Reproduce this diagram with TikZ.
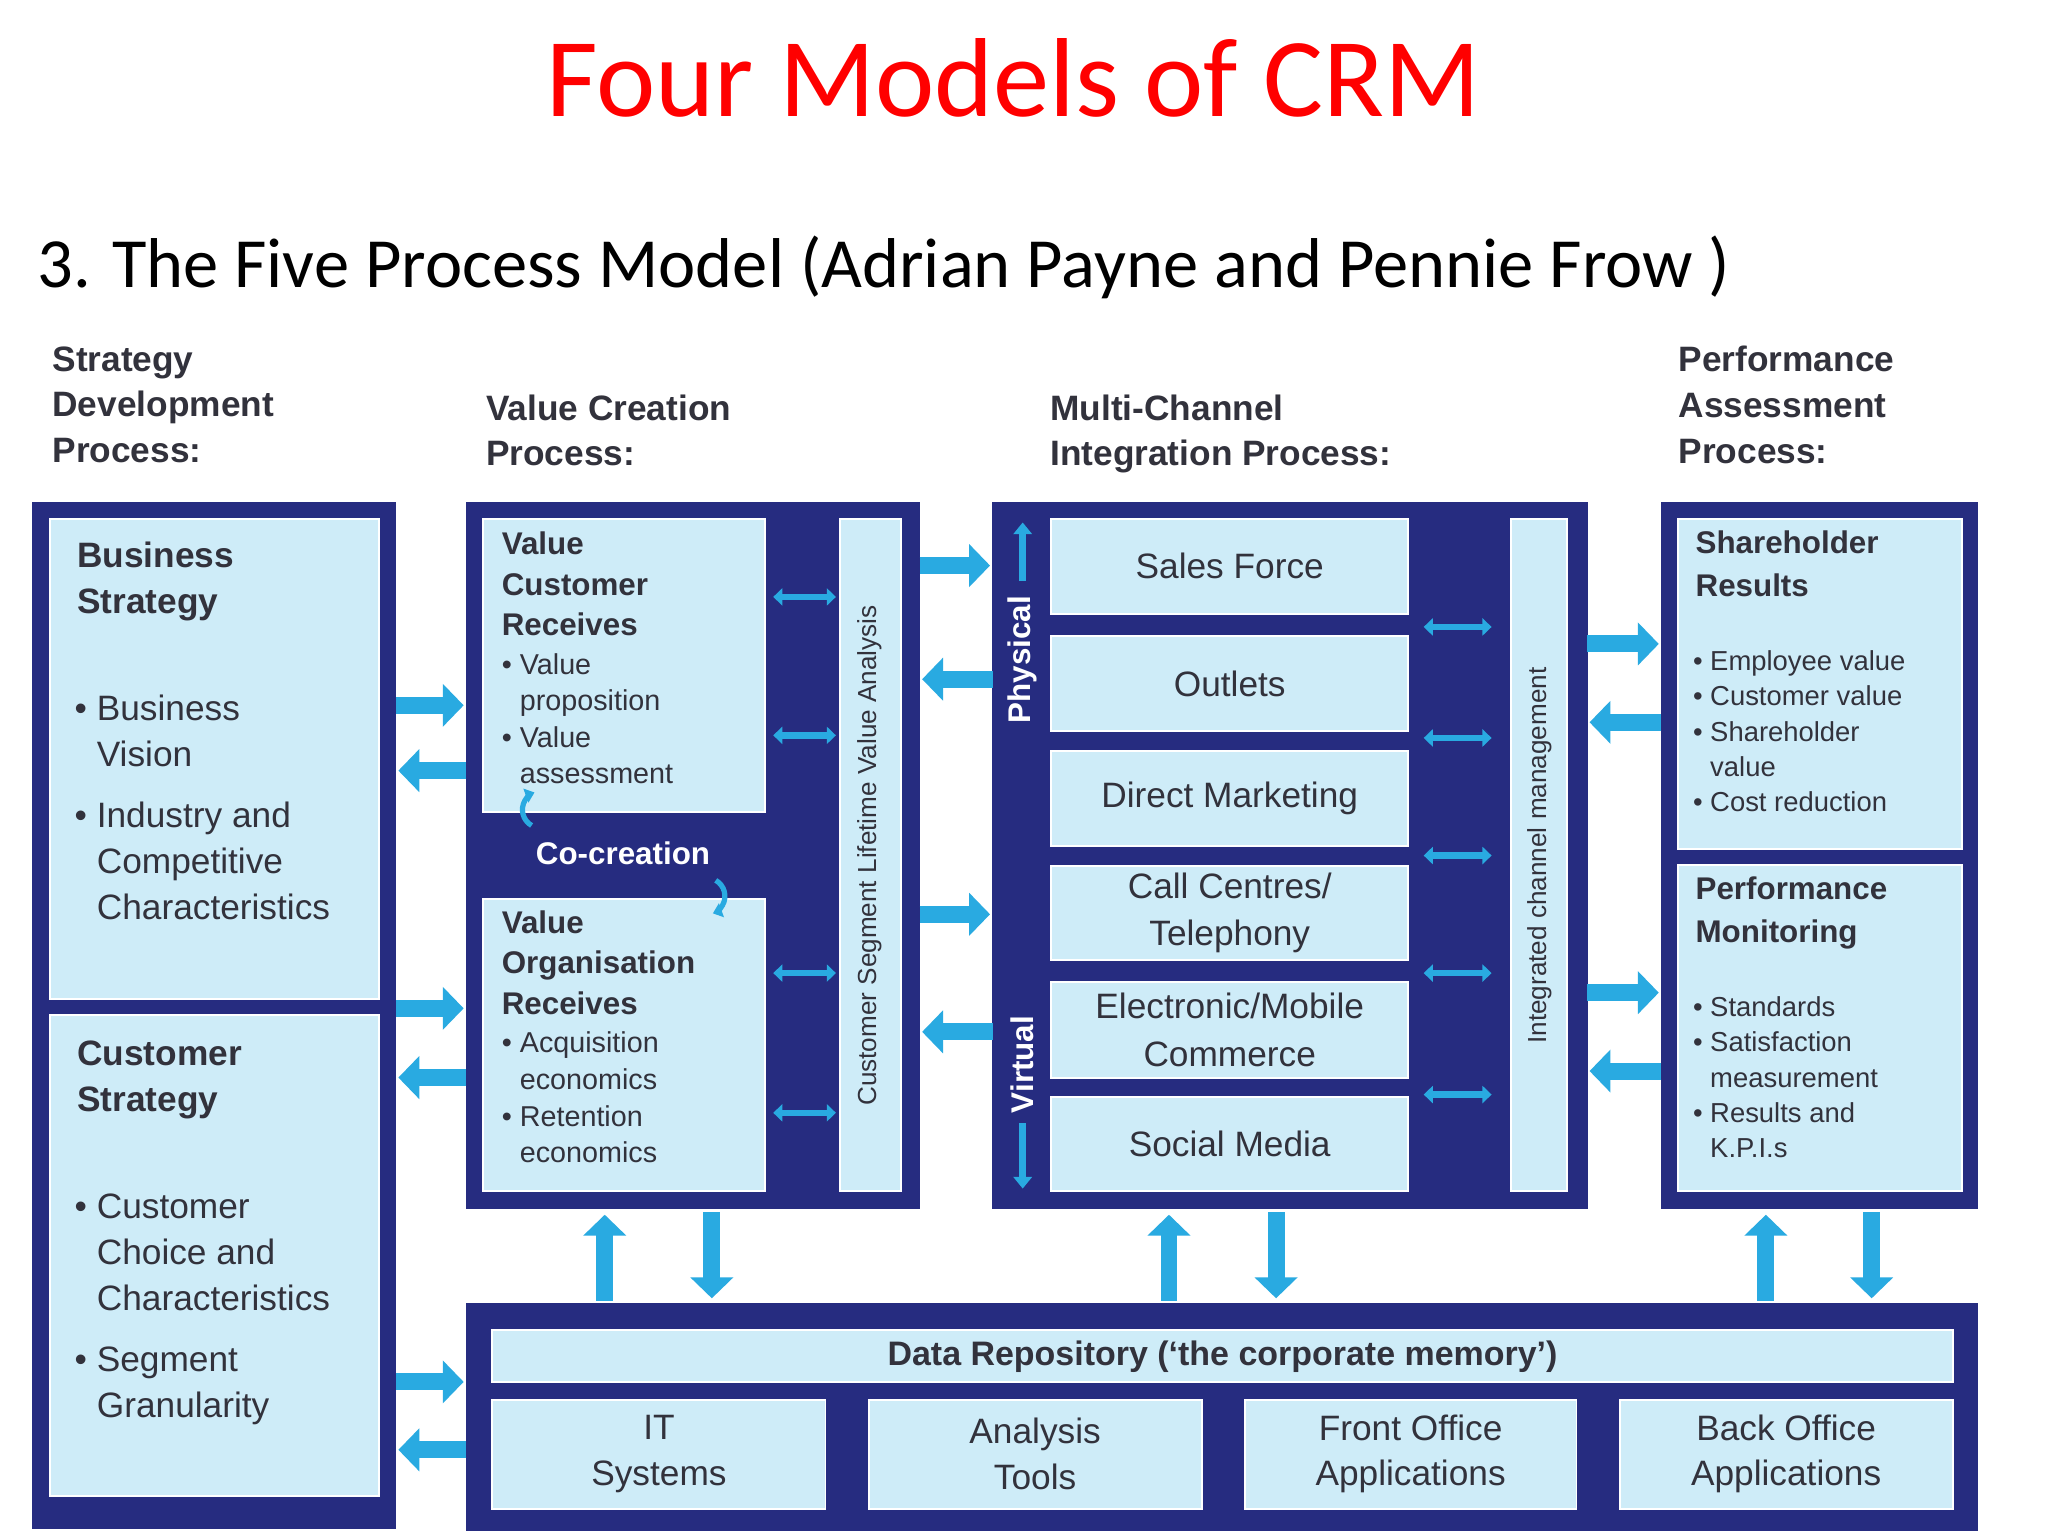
\documentclass[tikz,border=0pt]{standalone}
\usepackage{fontspec}
\setmainfont{Liberation Sans}
\newfontfamily\titlefont{Carlito}
\usetikzlibrary{arrows.meta,calc}
\definecolor{navy}{RGB}{38,44,128}
\definecolor{lblue}{RGB}{206,236,248}
\definecolor{cyanA}{RGB}{41,170,225}
\definecolor{txt}{RGB}{50,50,60}
\tikzset{
 x=1pt,y=-1pt,
 panel/.style={draw=navy,fill=navy,line width=1pt},
 box/.style={draw=white,line width=1.5pt,fill=lblue},
 fat/.style={draw=cyanA,line width=13pt,-{Triangle[length=16pt,width=32pt]},shorten >=0pt},
 dbl/.style={draw=cyanA,line width=5pt,{Triangle[length=7pt,width=13pt]}-{Triangle[length=7pt,width=13pt]}},
 hd/.style={font=\bfseries\fontsize{27}{35}\selectfont,text=txt,align=left,anchor=north west,inner sep=0},
 btxt/.style={text=txt,align=left,anchor=north west,inner sep=0},
 ctr/.style={text=txt,align=center,font=\fontsize{27}{36}\selectfont},
}
\begin{document}
\begin{tikzpicture}
\useasboundingbox (0,0) rectangle (1568,1176);
\fill[white] (0,0) rectangle (1568,1176);
\node[text=red,font=\titlefont\fontsize{86}{90}\selectfont] (title) at (776,60) {Four Models of CRM};
\node[anchor=west,font=\titlefont\fontsize{54}{60}\selectfont,text=black] (sub) at (25,205) {3. The Five Process Model (Adrian Payne and Pennie Frow )};
% headings
\node[hd] (h1) at (40,265) {Strategy\\Development\\Process:};
\node[hd] (h2) at (372,302) {Value Creation\\Process:};
\node[hd] (h3) at (804,302) {Multi-Channel\\Integration Process:};
\node[hd] (h4) at (1285,265) {Performance\\Assessment\\Process:};
% panels
\draw[panel] (25,385) rectangle (303,1170);
\draw[panel] (357,385) rectangle (704,925);
\draw[panel] (760,385) rectangle (1215,925);
\draw[panel] (1272,385) rectangle (1514,925);
\draw[panel] (357,998) rectangle (1514,1172);
\coordinate (p1) at (303,0); \coordinate (p2l) at (357,0); \coordinate (p2r) at (704,0);
\coordinate (p3l) at (760,0); \coordinate (p3r) at (1215,0); \coordinate (p4l) at (1272,0);
% panel 1
\draw[box] (38,397) rectangle (290,765);
\draw[box] (38,777) rectangle (290,1145);
\node[btxt,font=\bfseries\fontsize{27}{35}\selectfont] (bs) at (59,415) {Business\\Strategy};
\node[btxt,font=\fontsize{27}{35}\selectfont] (bsl) at (57,532) {•\ Business\\\hphantom{•\ }Vision\\[12pt]•\ Industry and\\\hphantom{•\ }Competitive\\\hphantom{•\ }Characteristics};
\node[btxt,font=\bfseries\fontsize{27}{35}\selectfont] (cs) at (59,797) {Customer\\Strategy};
\node[btxt,font=\fontsize{27}{35}\selectfont] (csl) at (57,914) {•\ Customer\\\hphantom{•\ }Choice and\\\hphantom{•\ }Characteristics\\[12pt]•\ Segment\\\hphantom{•\ }Granularity};
% panel 2
\draw[box] (370,397) rectangle (586,622);
\draw[box] (370,688) rectangle (586,912);
\draw[box] (643,397) rectangle (690,912);
\node[btxt,font=\bfseries\fontsize{24}{31}\selectfont] (vc) at (384,407) {Value\\Customer\\Receives};
\node[btxt,font=\fontsize{22}{28}\selectfont] (vcl) at (384,500) {•\ Value\\\hphantom{•\ }proposition\\•\ Value\\\hphantom{•\ }assessment};
\node[btxt,font=\bfseries\fontsize{24}{31}\selectfont] (vo) at (384,697) {Value\\Organisation\\Receives};
\node[btxt,font=\fontsize{22}{28}\selectfont] (vol) at (384,790) {•\ Acquisition\\\hphantom{•\ }economics\\•\ Retention\\\hphantom{•\ }economics};
\node[rotate=90,text=txt,font=\fontsize{20}{24}\selectfont] (cslv) at (666,655) {Customer Segment Lifetime Value Analysis};
\node[text=white,font=\bfseries\fontsize{24}{28}\selectfont] (co) at (477,653) {Co-creation};
\draw[cyanA,line width=4pt,-{Triangle[length=7pt,width=11pt]}] (407,632) arc (120:250:14);
\draw[cyanA,line width=4pt,-{Triangle[length=7pt,width=11pt]}] (548,674) arc (-60:70:14);
\foreach \y in {457,563,745,852} \draw[dbl] (592,\y) -- (640,\y);
% panel 3
\foreach \n/\a/\b/\t in {sf/397/470/Sales Force,ou/487/560/Outlets,dm/575/648/Direct Marketing,cc/663/735/{Call Centres/\\Telephony},em/752/825/{Electronic/Mobile\\Commerce},sm/840/912/Social Media}{
 \draw[box] (805,\a) rectangle (1078,\b);
 \node[ctr] (\n) at (941.5,{(\a+\b)/2}) {\t};
}
\draw[box] (1157,397) rectangle (1200,912);
\node[rotate=90,text=txt,font=\fontsize{20}{24}\selectfont] (icm) at (1179,655) {Integrated channel management};
\node[rotate=90,text=white,font=\bfseries\fontsize{24}{28}\selectfont] (phy) at (783,505) {Physical};
\node[rotate=90,text=white,font=\bfseries\fontsize{24}{28}\selectfont] (vir) at (783,815) {Virtual};
\draw[cyanA,line width=5pt,-{Triangle[length=9pt,width=14pt]}] (783,445) -- (783,400);
\draw[cyanA,line width=5pt,-{Triangle[length=9pt,width=14pt]}] (783,860) -- (783,910);
\foreach \y in {480,565,655,745,838} \draw[dbl] (1090,\y) -- (1142,\y);
% panel 4
\draw[box] (1285,397) rectangle (1502,650);
\draw[box] (1285,662) rectangle (1502,912);
\node[btxt,font=\bfseries\fontsize{24}{33}\selectfont] (sh) at (1298,406) {Shareholder\\Results};
\node[btxt,font=\fontsize{21}{27}\selectfont] (shl) at (1296,498) {•\ Employee value\\•\ Customer value\\•\ Shareholder\\\hphantom{•\ }value\\•\ Cost reduction};
\node[btxt,font=\bfseries\fontsize{24}{33}\selectfont] (pm) at (1298,671) {Performance\\Monitoring};
\node[btxt,font=\fontsize{21}{27}\selectfont] (pml) at (1296,763) {•\ Standards\\•\ Satisfaction\\\hphantom{•\ }measurement\\•\ Results and\\\hphantom{•\ }K.P.I.s};
% bottom
\draw[box] (377,1018) rectangle (1495,1058);
\node[text=txt,font=\bfseries\fontsize{26}{30}\selectfont] (dr) at (936,1039) {Data Repository (‘the corporate memory’)};
\foreach \n/\a/\b/\t in {it/377/632/{IT\\Systems},at/665/920/{Analysis\\Tools},fo/953/1207/{Front Office\\Applications},bo/1240/1495/{Back Office\\Applications}}{
 \draw[box] (\a,1072) rectangle (\b,1155);
 \node[ctr,font=\fontsize{27}{35}\selectfont] (\n) at ({(\a+\b)/2},1113) {\t};
}
% fat arrows between panels
\foreach \y in {540,772,1058} \draw[fat] (p1|-0,\y) -- ($(p2l|-0,\y)+(-2,0)$);
\foreach \y in {590,825,1110} \draw[fat] (p2l|-0,\y) -- ($(p1|-0,\y)+(2,0)$);
\foreach \y in {433,700} \draw[fat] (p2r|-0,\y) -- ($(p3l|-0,\y)+(-2,0)$);
\foreach \y in {520,790} \draw[fat] (p3l|-0,\y) -- ($(p2r|-0,\y)+(2,0)$);
\foreach \y in {493,760} \draw[fat] (p3r|-0,\y) -- ($(p4l|-0,\y)+(-2,0)$);
\foreach \y in {553,820} \draw[fat] (p4l|-0,\y) -- ($(p3r|-0,\y)+(2,0)$);
\foreach \x in {463,895,1352} \draw[fat] (\x,996) -- (\x,930);
\foreach \x in {545,977,1433} \draw[fat] (\x,928) -- (\x,994);
\end{tikzpicture}
\end{document}
